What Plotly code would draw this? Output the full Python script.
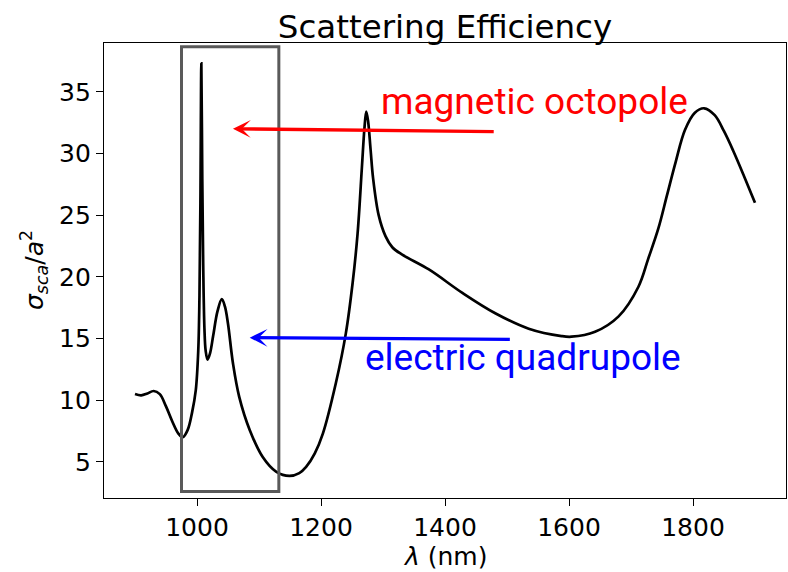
import plotly.graph_objects as go

# Scattering efficiency spectrum (wavelength in nm, sigma_sca / a^2)
wavelength = [
    900, 910, 920, 930, 940, 950, 960, 970, 977, 985, 992, 998,
    1002, 1004, 1005.5, 1007, 1008.5, 1010, 1012, 1014, 1017, 1021,
    1026, 1033, 1040, 1045, 1050, 1058, 1068, 1085, 1106, 1128, 1149,
    1165, 1176, 1190, 1203, 1224, 1240, 1251, 1259, 1266, 1270, 1273,
    1276, 1280, 1284, 1293, 1304, 1315, 1331, 1374, 1428, 1481, 1535,
    1588, 1604, 1642, 1680, 1712, 1728, 1744, 1758, 1772, 1787, 1803,
    1818, 1835, 1850, 1865, 1882, 1900,
]
efficiency = [
    10.5, 10.4, 10.55, 10.75, 10.5, 9.5, 8.3, 7.3, 7.0, 7.6, 9.0, 10.8,
    14.0, 18.5, 26.0, 37.3, 28.0, 21.0, 15.8, 14.0, 13.3, 13.8,
    15.2, 17.2, 18.2, 17.6, 16.2, 13.0, 10.3, 7.6, 5.4, 4.2, 3.87,
    4.1, 4.6, 5.7, 7.3, 11.4, 15.4, 19.5, 23.5, 28.9, 32.0, 33.4,
    32.6, 30.3, 28.0, 25.0, 23.3, 22.4, 21.8, 20.6, 18.7, 17.05, 15.8,
    15.2, 15.15, 15.55, 16.8, 19.2, 21.5, 23.9, 26.6, 29.3, 31.9, 33.3,
    33.66, 33.1, 31.8, 30.2, 28.2, 26.0,
]

x_ticks = [1000, 1200, 1400, 1600, 1800]
y_ticks = [5, 10, 15, 20, 25, 30, 35]

# Highlighted window around the two sharp resonances
box_x = [975, 1132]
box_y = [2.6, 38.65]

# Mode labels: (text, colour, arrow tip, arrow tail, text anchor)
mode_labels = [
    ("magnetic octopole", "#ff0000", (1058, 32.0), (1481, 31.77), (1294, 34.2)),
    ("electric quadrupole", "#0000ff", (1085, 15.07), (1507, 14.94), (1268, 13.5)),
]

fig = go.Figure()
fig.add_trace(go.Scatter(
    x=wavelength, y=efficiency, mode="lines",
    line=dict(color="black", width=2.7, shape="spline", smoothing=1.0),
    hoverinfo="skip", showlegend=False,
))

fig.add_shape(
    type="rect", xref="x", yref="y",
    x0=box_x[0], x1=box_x[1], y0=box_y[0], y1=box_y[1],
    line=dict(color="#5a5a5a", width=3),
)

annotations = []
for text, colour, tip, tail, anchor in mode_labels:
    annotations.append(dict(
        x=tip[0], y=tip[1], ax=tail[0], ay=tail[1],
        xref="x", yref="y", axref="x", ayref="y",
        text="", showarrow=True, arrowhead=3, arrowsize=0.9,
        arrowwidth=3.3, arrowcolor=colour, standoff=0, startstandoff=0,
    ))
    annotations.append(dict(
        x=anchor[0], y=anchor[1], xref="x", yref="y",
        text=text, showarrow=False, xanchor="left", yanchor="middle",
        font=dict(family="Roboto", size=37, color=colour),
    ))

# Axis titles
annotations.append(dict(
    x=0.5, y=-0.092, xref="paper", yref="paper",
    text="<i>λ</i> (nm)", showarrow=False, xanchor="center", yanchor="top",
    font=dict(family="DejaVu Sans", size=25, color="black"),
))
annotations.append(dict(
    x=-0.074, y=0.5, xref="paper", yref="paper", textangle=-90,
    text="<i>σ</i><sub><i>sca</i></sub>/<i>a</i><sup>2</sup>",
    showarrow=False, xanchor="right", yanchor="middle",
    font=dict(family="DejaVu Sans", size=25, color="black"),
))

axis_common = dict(
    showline=True, mirror=True, linecolor="black", linewidth=1.2,
    ticks="outside", ticklen=7, tickwidth=1.2, tickcolor="black",
    showgrid=False, zeroline=False,
    tickfont=dict(family="DejaVu Sans", size=25, color="black"),
)

fig.update_layout(
    width=788, height=572,
    margin=dict(l=104, r=2, t=43, b=74),
    paper_bgcolor="white", plot_bgcolor="white",
    title=dict(
        text="Scattering Efficiency", x=0.5, xref="paper", xanchor="center",
        y=1, yref="paper", yanchor="bottom", pad=dict(b=5),
        font=dict(family="DejaVu Sans", size=32.5, color="black"),
    ),
    xaxis=dict(range=[850, 1950], tickvals=x_ticks, **axis_common),
    yaxis=dict(range=[2.08, 38.95], tickvals=y_ticks, **axis_common),
    annotations=annotations,
)

fig.write_html("out.html")
